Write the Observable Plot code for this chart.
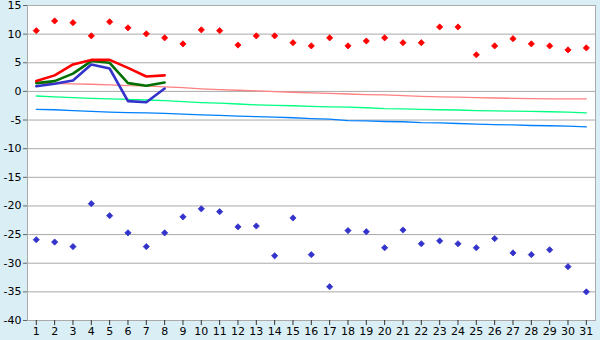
<!DOCTYPE html>
<html><head><meta charset="utf-8">
<script src="https://cdn.jsdelivr.net/npm/d3@7"></script>
<script src="https://cdn.jsdelivr.net/npm/@observablehq/plot@0.6"></script>
<style>html,body{margin:0;padding:0;background:#daeef5;}#chart svg{display:block;}</style>
</head><body><div id="chart"></div>
<script>
const days = [1,2,3,4,5,6,7,8,9,10,11,12,13,14,15,16,17,18,19,20,21,22,23,24,25,26,27,28,29,30,31];
const recordMax = [10.6,12.3,12.0,9.7,12.15,11.1,10.05,9.35,8.3,10.75,10.6,8.1,9.7,9.7,8.5,7.95,9.35,7.95,8.8,9.35,8.5,8.5,11.25,11.25,6.4,7.95,9.2,8.3,7.95,7.25,7.6];
const recordMin = [-25.9,-26.3,-27.1,-19.6,-21.7,-24.7,-27.1,-24.7,-21.9,-20.5,-21.0,-23.65,-23.5,-28.7,-22.1,-28.5,-34.1,-24.3,-24.5,-27.3,-24.2,-26.6,-26.1,-26.6,-27.3,-25.7,-28.2,-28.5,-27.65,-30.6,-35.0];
const normalMax = [1.4,1.35,1.3,1.25,1.15,1.0,0.95,0.8,0.65,0.45,0.3,0.2,0.1,-0.05,-0.15,-0.25,-0.35,-0.45,-0.55,-0.6,-0.75,-0.85,-0.95,-1.0,-1.1,-1.15,-1.2,-1.25,-1.3,-1.3,-1.3];
const normalMean = [-0.8,-0.95,-1.1,-1.2,-1.3,-1.4,-1.5,-1.6,-1.8,-1.95,-2.05,-2.2,-2.35,-2.45,-2.5,-2.6,-2.7,-2.75,-2.85,-3.0,-3.05,-3.15,-3.2,-3.25,-3.35,-3.4,-3.45,-3.5,-3.55,-3.6,-3.75];
const normalMin = [-3.15,-3.2,-3.35,-3.5,-3.6,-3.7,-3.75,-3.85,-3.95,-4.1,-4.2,-4.3,-4.4,-4.5,-4.6,-4.75,-4.85,-5.1,-5.15,-5.25,-5.3,-5.45,-5.5,-5.6,-5.7,-5.8,-5.85,-5.95,-6.0,-6.05,-6.2];
const obsDays = [1,2,3,4,5,6,7,8];
const obsMax = [1.8,2.8,4.7,5.5,5.5,4.1,2.6,2.8];
const obsMean = [1.45,1.8,3.1,5.3,5.0,1.45,1.0,1.55];
const obsMin = [0.9,1.35,1.9,4.7,4.0,-1.7,-1.9,0.5];
const yTicks = [15,10,5,0,-5,-10,-15,-20,-25,-30,-35,-40];

const tbl = (xs, ys) => xs.map((x, i) => ({x, y: ys[i]}));

const chart = Plot.plot({
  width: 600, height: 340,
  marginLeft: 27, marginRight: 5, marginTop: 5, marginBottom: 20,
  style: {background: "#daeef5", fontFamily: "DejaVu Sans", fontSize: "11px", color: "#000"},
  x: {domain: [0.52, 31.5], label: null},
  y: {domain: [-40, 15], label: null},
  marks: [
    Plot.frame({fill: "white"}),
    Plot.ruleY(yTicks, {stroke: "#aaaaaa", strokeWidth: 1}),
    Plot.line(tbl(days, normalMax), {x: "x", y: "y", stroke: "#ff8080", strokeWidth: 1.3}),
    Plot.line(tbl(days, normalMean), {x: "x", y: "y", stroke: "#00ff80", strokeWidth: 1.3}),
    Plot.line(tbl(days, normalMin), {x: "x", y: "y", stroke: "#0080ff", strokeWidth: 1.3}),
    Plot.line(tbl(obsDays, obsMin), {x: "x", y: "y", stroke: "#3333cc", strokeWidth: 2.6}),
    Plot.line(tbl(obsDays, obsMean), {x: "x", y: "y", stroke: "#007000", strokeWidth: 2.6}),
    Plot.line(tbl(obsDays, obsMax), {x: "x", y: "y", stroke: "#ff0000", strokeWidth: 2.6}),
    Plot.dot(tbl(days, recordMax), {x: "x", y: "y", symbol: "diamond2", r: 2.8, fill: "#ff0000", stroke: "#ff0000", strokeWidth: 0.8}),
    Plot.dot(tbl(days, recordMin), {x: "x", y: "y", symbol: "diamond2", r: 2.8, fill: "#3333cc", stroke: "#3333cc", strokeWidth: 0.8}),
    Plot.frame({stroke: "#aaaaaa"}),
    Plot.axisY(yTicks, {label: null, tickSize: 4, tickPadding: 2, stroke: "#666", tickFormat: d => String(d), fill: "#000"}),
    Plot.axisX(days, {label: null, tickSize: 5, tickPadding: 2, stroke: "#333", tickFormat: d => String(d), fill: "#000"})
  ]
});
document.getElementById("chart").append(chart);
</script></body></html>
